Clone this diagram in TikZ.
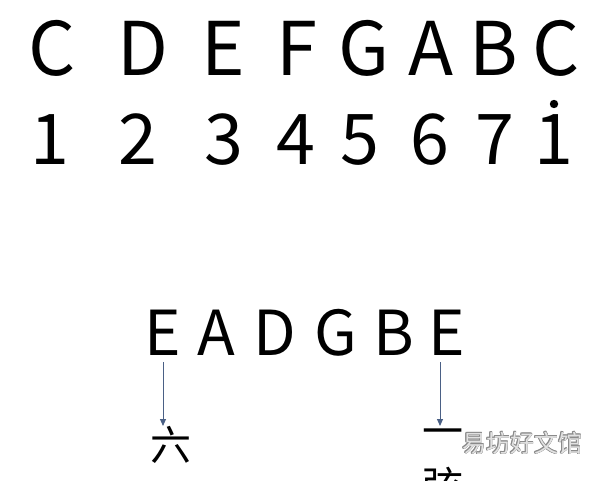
\documentclass[tikz,border=0pt]{standalone}
\usepackage{fontspec}
\setmainfont{Noto Sans CJK SC}
\usetikzlibrary{arrows.meta,calc}
\definecolor{arrowc}{HTML}{4A6085}
\definecolor{wmline}{HTML}{8A8A8A}
\definecolor{wmfill}{HTML}{E2E2E2}
\begin{document}
\begin{tikzpicture}[x=1pt,y=-1pt,
  big/.style={font=\fontsize{74}{80}\selectfont, inner sep=0pt, anchor=base},
  num/.style={font=\fontsize{70}{80}\selectfont, inner sep=0pt, anchor=base},
  low/.style={font=\fontsize{62}{70}\selectfont, inner sep=0pt, anchor=base},
  cjk/.style={font=\fontsize{41}{45}\selectfont, inner sep=0pt, text height=0.88em, text depth=0.12em},
  link/.style={draw=arrowc, line width=1pt, -{Triangle[length=7pt,width=6pt]}},
  wm/.style={font=\fontsize{24}{26}\selectfont, inner sep=0pt}]
\fill[white] (0,0) rectangle (610,481);
\useasboundingbox (0,0) rectangle (610,481);
% top row: note names
\node[big] (tC1) at (52,76) {C};
\node[big] (tD) at (143,76) {D};
\node[big] (tE) at (223,76) {E};
\node[big] (tF) at (297,76) {F};
\node[big] (tG) at (364,76) {G};
\node[big] (tA) at (431,76) {A};
\node[big] (tB) at (494,76) {B};
\node[big] (tC2) at (556,76) {C};
% second row: numbers
\node[num] (n1) at (50,165) {1};
\node[num] (n2) at (138,165) {2};
\node[num] (n3) at (224,165) {3};
\node[num] (n4) at (296,165) {4};
\node[num] (n5) at (360,165) {5};
\node[num] (n6) at (430,165) {6};
\node[num] (n7) at (495,165) {7};
\node[num] (n8) at (554,165) {1};
\fill (554,104) circle (4.2);
% open strings
\node[low] (e1) at (163,355) {E};
\node[low] (a) at (216,355) {A};
\node[low] (d) at (275,355) {D};
\node[low] (g) at (336,355) {G};
\node[low] (b) at (394,355) {B};
\node[low] (e6) at (447,355) {E};
% string numbers
\node[cjk] (six) at (171,457) {六};
\node[cjk] (one) at (443,443) {一};
\node[cjk] (xian) at (443,498) {弦};
% arrows
\coordinate (la) at (163,362);
\coordinate (lb) at (163,426);
\coordinate (ra) at (440,362);
\coordinate (rb) at (440,426);
\draw[link] (la) -- (lb);
\draw[link] (ra) -- (rb);
% watermark (outlined text)
\foreach \dx/\dy in {-0.8/0,0.8/0,0/-0.8,0/0.8,-0.6/-0.6,0.6/0.6,-0.6/0.6,0.6/-0.6}
  \node[wm, text=wmline] at (522+\dx,443+\dy) {易坊好文馆};
\node[wm, text=wmfill] (wmark) at (522,443) {易坊好文馆};
\end{tikzpicture}
\end{document}
